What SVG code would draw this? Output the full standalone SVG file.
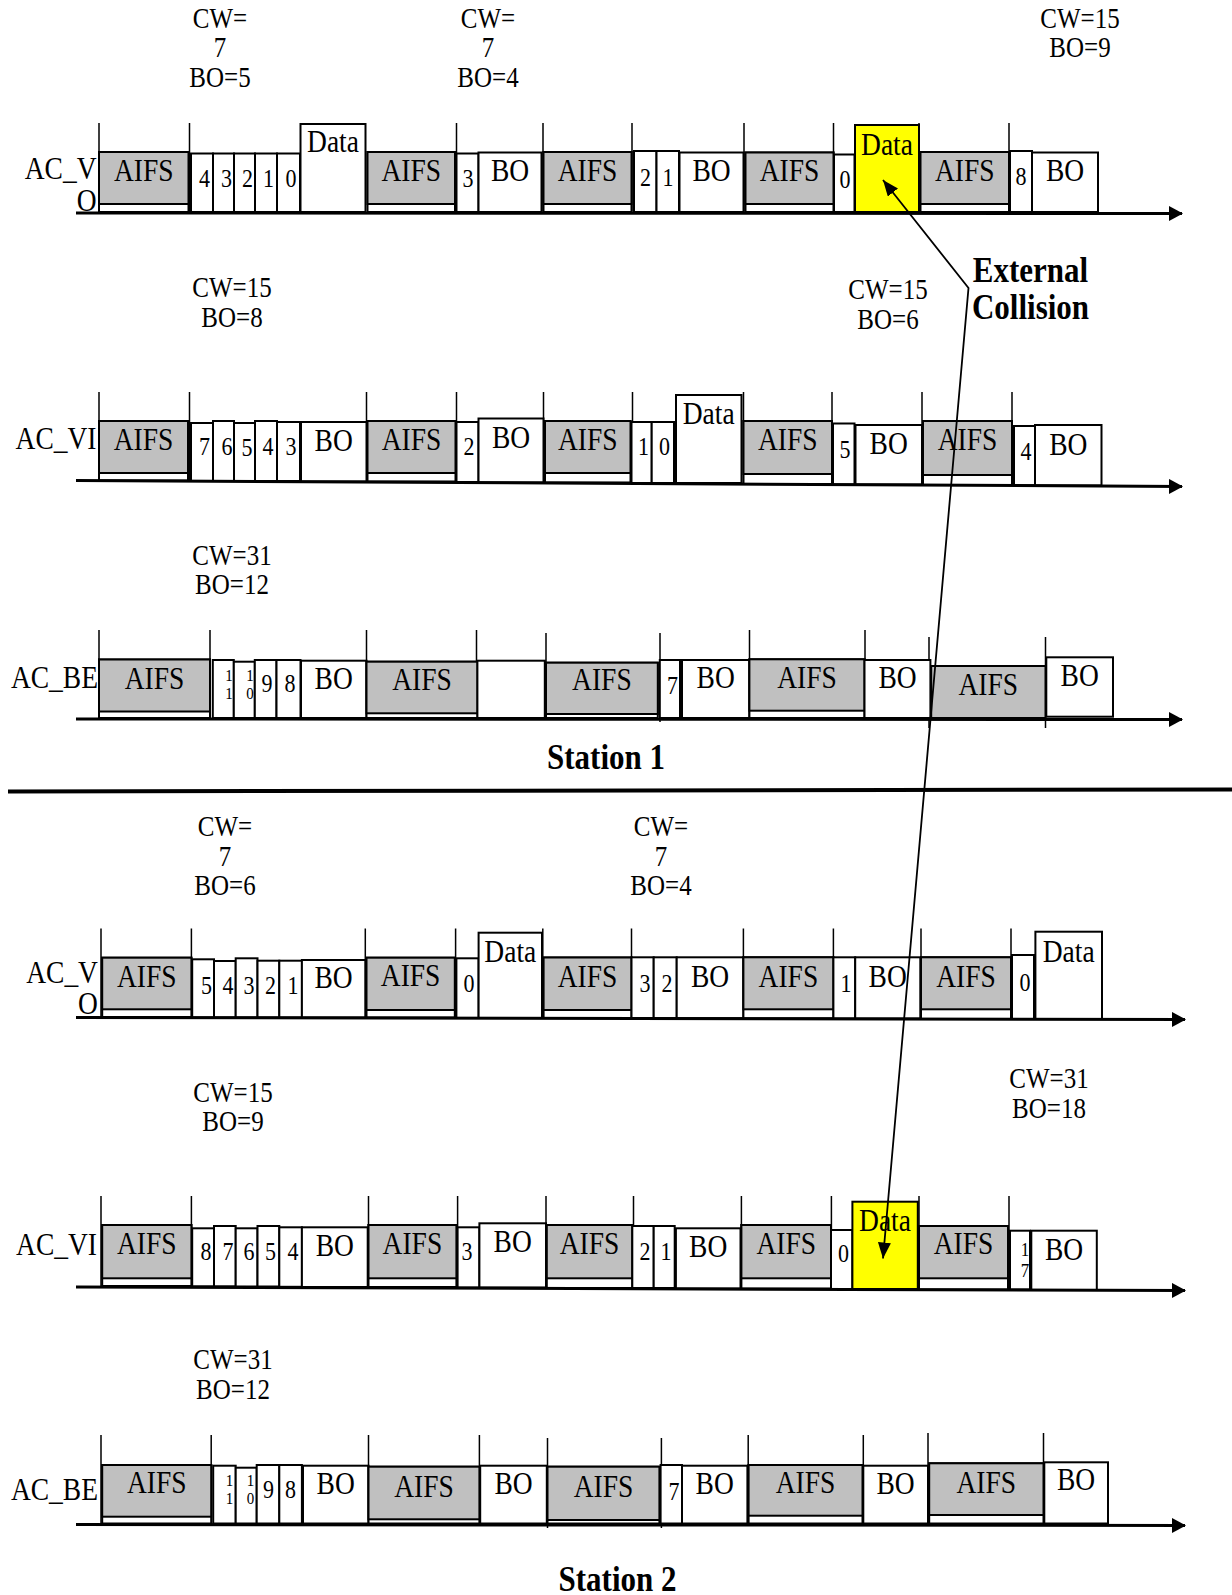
<svg xmlns="http://www.w3.org/2000/svg" width="1232" height="1595" viewBox="0 0 1232 1595">
<style>
text{font-family:"Liberation Serif","Times New Roman",serif;text-anchor:middle;fill:#000;transform-box:fill-box;transform-origin:center;transform:scaleY(1.15)}
.l{font-size:27.5px}
.r{font-size:27.5px;text-anchor:end}
.d{font-size:22px}
.s{font-size:15px}
.s17{font-size:17px}
.n{font-size:25px}
.b{font-size:31px;font-weight:bold}
.a{fill:#c0c0c0;stroke:#000;stroke-width:2}
.w{fill:#fff;stroke:#000;stroke-width:2}
.y{fill:#ffff00;stroke:#000;stroke-width:2}
.t{stroke:#000;stroke-width:1.5}
.base{stroke:#000;stroke-width:3;fill:none}
.col{stroke:#000;stroke-width:1.8;fill:none}
</style>
<defs>
<marker id="bh" viewBox="0 0 14 15" refX="13" refY="7.5" markerWidth="14" markerHeight="15" markerUnits="userSpaceOnUse" orient="auto"><path d="M0,0 L14,7.5 L0,15 z" fill="#000"/></marker>
<marker id="ch" viewBox="0 0 16 13" refX="16" refY="6.5" markerWidth="16" markerHeight="13" markerUnits="userSpaceOnUse" orient="auto-start-reverse"><path d="M0,0 L16,6.5 L0,13 z" fill="#000"/></marker>
</defs>
<rect width="1232" height="1595" fill="#fff"/>

<g id="notes">
<text class="n" x="220" y="26.3">CW=</text><text class="n" x="220" y="55.8">7</text><text class="n" x="220" y="85.3">BO=5</text>
<text class="n" x="488" y="26.3">CW=</text><text class="n" x="488" y="55.8">7</text><text class="n" x="488" y="85.3">BO=4</text>
<text class="n" x="1080" y="26.3">CW=15</text><text class="n" x="1080" y="55.8">BO=9</text>
<text class="n" x="232" y="296">CW=15</text><text class="n" x="232" y="325.4">BO=8</text>
<text class="n" x="888" y="298">CW=15</text><text class="n" x="888" y="327.4">BO=6</text>
<text class="b" x="1030.5" y="280.6">External</text><text class="b" x="1030.5" y="317.2">Collision</text>
<text class="n" x="232" y="563.5">CW=31</text><text class="n" x="232" y="593">BO=12</text>
<text class="b" x="606" y="767">Station 1</text>
<text class="n" x="225" y="835">CW=</text><text class="n" x="225" y="864.6">7</text><text class="n" x="225" y="894">BO=6</text>
<text class="n" x="661" y="835">CW=</text><text class="n" x="661" y="864.6">7</text><text class="n" x="661" y="894">BO=4</text>
<text class="n" x="233" y="1100.6">CW=15</text><text class="n" x="233" y="1130">BO=9</text>
<text class="n" x="1049" y="1087">CW=31</text><text class="n" x="1049" y="1117">BO=18</text>
<text class="n" x="233" y="1368">CW=31</text><text class="n" x="233" y="1397.6">BO=12</text>
<text class="b" x="617.5" y="1589">Station 2</text>
</g>

<g id="row-labels">
<text class="r" x="96.5" y="178">AC_V</text><text class="r" x="96.5" y="210">O</text>
<text class="r" x="96.5" y="447.5">AC_VI</text>
<text class="r" x="98" y="686.5">AC_BE</text>
<text class="r" x="98" y="981.5">AC_V</text><text class="r" x="98" y="1013">O</text>
<text class="r" x="97" y="1254">AC_VI</text>
<text class="r" x="98" y="1499">AC_BE</text>
</g>

<g id="ticks">
<path class="t" d="M99,123V212M189.5,123V212M456.5,123V212M543,123V212M632,123V212M744,123V212M833.5,123V212M919,123V212M1009,123V212"/>
<path class="t" d="M99,392V481M189.5,392V481M366.5,392V482M456.5,392V482M543.5,392V483M632.5,392V483M743.5,392V484M832,392V484M922,392V485M1012,392V485"/>
<path class="t" d="M99,630V719M210,630V719M366.5,630V719M476.5,630V719M546,633V719M660,633V722M749.5,630V719M865,630V719M929,637V728M1045.5,637V728"/>
<path class="t" d="M101,928.5V1018M191.4,928.5V1018M365.3,928.5V1018M455.6,928.5V1018M542.8,928.5V1018M631.5,928.5V1018M743.4,928.5V1019M833.4,928.5V1019M921,928.5V1019M1011,928.5V1019"/>
<path class="t" d="M101,1196V1287M191.4,1196V1287M368.5,1196V1288M457.6,1196V1288M546,1196V1288M633.5,1196V1289M741.4,1196V1289M831.4,1196V1289M919,1196V1290M1009,1196V1290"/>
<path class="t" d="M101,1435V1525M211.2,1435V1525M368.5,1435V1525M479.4,1435V1525M547.5,1438V1528M661.4,1438V1528M748.2,1435V1525M863.3,1435V1525M928,1433V1525M1043.5,1433V1525"/>
</g>

<!-- Station 1 AC_VO -->
<g id="s1vo-aifs1"><rect class="w" x="99" y="152" width="89.5" height="60"/><rect class="a" x="99" y="152" width="89.5" height="52"/><text class="l" x="143.7" y="180">AIFS</text></g>
<g id="s1vo-c4"><rect class="w" x="191" y="153.5" width="22" height="58.5"/><text class="d" x="204.5" y="186">4</text></g>
<g id="s1vo-c3"><rect class="w" x="213" y="153.5" width="21" height="58.5"/><text class="d" x="226.5" y="186">3</text></g>
<g id="s1vo-c2"><rect class="w" x="234" y="153.5" width="21" height="58.5"/><text class="d" x="247.5" y="186">2</text></g>
<g id="s1vo-c1"><rect class="w" x="255" y="153.5" width="22" height="58.5"/><text class="d" x="268.5" y="186">1</text></g>
<g id="s1vo-c0"><rect class="w" x="277" y="153.5" width="23" height="58.5"/><text class="d" x="291" y="186">0</text></g>
<g id="s1vo-data1"><rect class="w" x="300.5" y="124" width="65" height="88"/><text class="l" x="333" y="151">Data</text></g>
<g id="s1vo-aifs2"><rect class="w" x="367.5" y="152" width="87.5" height="60"/><rect class="a" x="367.5" y="152" width="87.5" height="52"/><text class="l" x="411.2" y="180">AIFS</text></g>
<g id="s1vo-c3b"><rect class="w" x="456.5" y="153.5" width="22" height="58.5"/><text class="d" x="468" y="186">3</text></g>
<g id="s1vo-bo1"><rect class="w" x="478.5" y="152.5" width="63" height="59.5"/><text class="l" x="510" y="180">BO</text></g>
<g id="s1vo-aifs3"><rect class="w" x="543.5" y="152" width="88" height="60"/><rect class="a" x="543.5" y="152" width="88" height="52"/><text class="l" x="587.5" y="180">AIFS</text></g>
<g id="s1vo-c2b"><rect class="w" x="634" y="151" width="22.5" height="61"/><text class="d" x="645.5" y="185">2</text></g>
<g id="s1vo-c1b"><rect class="w" x="656.5" y="151" width="22.5" height="61"/><text class="d" x="668" y="185">1</text></g>
<g id="s1vo-bo2"><rect class="w" x="679.5" y="152.5" width="64" height="59.5"/><text class="l" x="711.5" y="180">BO</text></g>
<g id="s1vo-aifs4"><rect class="w" x="745.5" y="152.5" width="88" height="59.5"/><rect class="a" x="745.5" y="152.5" width="88" height="51.5"/><text class="l" x="789.5" y="180">AIFS</text></g>
<g id="s1vo-c0b"><rect class="w" x="834" y="154.5" width="20.5" height="57.5"/><text class="d" x="845" y="187">0</text></g>
<g id="s1vo-data2"><rect class="y" x="855" y="125" width="64" height="87"/><text class="l" x="887" y="153.5">Data</text></g>
<g id="s1vo-aifs5"><rect class="w" x="920.5" y="152" width="88.5" height="60"/><rect class="a" x="920.5" y="152" width="88.5" height="52"/><text class="l" x="964.7" y="180">AIFS</text></g>
<g id="s1vo-c8"><rect class="w" x="1010" y="151" width="22" height="61"/><text class="d" x="1021" y="184">8</text></g>
<g id="s1vo-bo3"><rect class="w" x="1032" y="152.5" width="66" height="59.5"/><text class="l" x="1065" y="180">BO</text></g>

<!-- Station 1 AC_VI -->
<g id="s1vi-aifs1"><rect class="w" x="99" y="421" width="89" height="59.5"/><rect class="a" x="99" y="421" width="89" height="52"/><text class="l" x="143.5" y="448.5">AIFS</text></g>
<g id="s1vi-c7"><rect class="w" x="191" y="423" width="22" height="58"/><text class="d" x="204.5" y="453.5">7</text></g>
<g id="s1vi-c6"><rect class="w" x="213" y="421" width="21" height="60"/><text class="d" x="227" y="453.5">6</text></g>
<g id="s1vi-c5"><rect class="w" x="234" y="423" width="21" height="58"/><text class="d" x="247" y="455">5</text></g>
<g id="s1vi-c4"><rect class="w" x="255" y="421" width="22" height="60"/><text class="d" x="268" y="453.5">4</text></g>
<g id="s1vi-c3"><rect class="w" x="277" y="422" width="23" height="59"/><text class="d" x="291" y="453.5">3</text></g>
<g id="s1vi-bo1"><rect class="w" x="301" y="422" width="65.5" height="59.5"/><text class="l" x="333.7" y="449.5">BO</text></g>
<g id="s1vi-aifs2"><rect class="w" x="367.5" y="421" width="88" height="60.5"/><rect class="a" x="367.5" y="421" width="88" height="52"/><text class="l" x="411.5" y="448.5">AIFS</text></g>
<g id="s1vi-c2"><rect class="w" x="456.5" y="422" width="22" height="60"/><text class="d" x="469" y="453.5">2</text></g>
<g id="s1vi-bo2"><rect class="w" x="478.5" y="418.5" width="65" height="64"/><text class="l" x="511" y="446.4">BO</text></g>
<g id="s1vi-aifs3"><rect class="w" x="545" y="421" width="85.5" height="61.5"/><rect class="a" x="545" y="421" width="85.5" height="52"/><text class="l" x="587.7" y="448.5">AIFS</text></g>
<g id="s1vi-c1"><rect class="w" x="631.5" y="422" width="20.2" height="61"/><text class="d" x="643.5" y="453.5">1</text></g>
<g id="s1vi-c0"><rect class="w" x="651.7" y="422" width="22.3" height="61"/><text class="d" x="664.5" y="453.5">0</text></g>
<g id="s1vi-data"><rect class="w" x="676" y="395" width="65.5" height="88"/><text class="l" x="708.7" y="423">Data</text></g>
<g id="s1vi-aifs4"><rect class="w" x="743.5" y="421" width="88.5" height="63"/><rect class="a" x="743.5" y="421" width="88.5" height="53"/><text class="l" x="787.7" y="448.5">AIFS</text></g>
<g id="s1vi-c5b"><rect class="w" x="833" y="423.5" width="21.5" height="61"/><text class="d" x="845" y="456.5">5</text></g>
<g id="s1vi-bo3"><rect class="w" x="855.5" y="425" width="66.5" height="59.5"/><text class="l" x="888.7" y="452.5">BO</text></g>
<g id="s1vi-aifs5"><rect class="w" x="923" y="421" width="89" height="64"/><rect class="a" x="923" y="421" width="89" height="54"/><text class="l" x="967.5" y="448.5">AIFS</text></g>
<g id="s1vi-c4b"><rect class="w" x="1014" y="426" width="21" height="59.5"/><text class="d" x="1026" y="458.5">4</text></g>
<g id="s1vi-bo4"><rect class="w" x="1035" y="425" width="66.5" height="60.5"/><text class="l" x="1068.3" y="453.6">BO</text></g>

<!-- Station 1 AC_BE -->
<g id="s1be-aifs1"><rect class="w" x="99" y="659.5" width="111" height="58.5"/><rect class="a" x="99" y="659.5" width="111" height="52"/><text class="l" x="154.5" y="687.5">AIFS</text></g>
<g id="s1be-c11"><rect class="w" x="212.8" y="660" width="21" height="58"/><text class="s" x="229" y="680">1</text><text class="s" x="229" y="698">1</text></g>
<g id="s1be-c10"><rect class="w" x="233.8" y="661.7" width="21" height="56.3"/><text class="s" x="250" y="680">1</text><text class="s" x="250" y="698">0</text></g>
<g id="s1be-c9"><rect class="w" x="254.8" y="660" width="21.7" height="58"/><text class="d" x="267" y="690.5">9</text></g>
<g id="s1be-c8"><rect class="w" x="276.5" y="660" width="24" height="58"/><text class="d" x="290" y="690.5">8</text></g>
<g id="s1be-bo1"><rect class="w" x="301" y="660.7" width="65.5" height="57.3"/><text class="l" x="333.7" y="687.5">BO</text></g>
<g id="s1be-aifs2"><rect class="w" x="366.5" y="661.7" width="111" height="56.3"/><rect class="a" x="366.5" y="661.7" width="111" height="51.6"/><text class="l" x="422" y="688.6">AIFS</text></g>
<g id="s1be-empty"><rect class="w" x="477.4" y="660.7" width="67.4" height="57.3"/></g>
<g id="s1be-aifs3"><rect class="w" x="546" y="662.7" width="111.8" height="55.3"/><rect class="a" x="546" y="662.7" width="111.8" height="51.3"/><text class="l" x="601.9" y="688.6">AIFS</text></g>
<g id="s1be-c7"><rect class="w" x="659.8" y="660" width="20.2" height="58"/><text class="d" x="672.5" y="692.5">7</text></g>
<g id="s1be-bo2"><rect class="w" x="682" y="660" width="67.4" height="58"/><text class="l" x="715.7" y="686.5">BO</text></g>
<g id="s1be-aifs4"><rect class="w" x="749.4" y="659.3" width="115.1" height="58.7"/><rect class="a" x="749.4" y="659.3" width="115.1" height="51.4"/><text class="l" x="807" y="686.5">AIFS</text></g>
<g id="s1be-bo3"><rect class="w" x="864.5" y="660" width="65.9" height="58"/><text class="l" x="897.5" y="686.5">BO</text></g>
<g id="s1be-aifs5"><rect class="a" x="931.2" y="666" width="114.3" height="52"/><text class="l" x="988.3" y="693.6">AIFS</text></g>
<g id="s1be-bo4"><rect class="w" x="1046.3" y="657.3" width="66.7" height="59.4"/><text class="l" x="1079.7" y="684.5">BO</text></g>

<!-- Station 2 AC_VO -->
<g id="s2vo-aifs1"><rect class="w" x="102.2" y="957.7" width="89.2" height="59.3"/><rect class="a" x="102.2" y="957.7" width="89.2" height="51.6"/><text class="l" x="146.8" y="985.6">AIFS</text></g>
<g id="s2vo-c5"><rect class="w" x="192.2" y="959.3" width="21.8" height="58.2"/><text class="d" x="206.5" y="992.5">5</text></g>
<g id="s2vo-c4"><rect class="w" x="214" y="961" width="21.7" height="56.5"/><text class="d" x="228" y="992.5">4</text></g>
<g id="s2vo-c3"><rect class="w" x="235.7" y="958.3" width="21.8" height="59.2"/><text class="d" x="249" y="992.5">3</text></g>
<g id="s2vo-c2"><rect class="w" x="257.5" y="960.7" width="21.8" height="56.8"/><text class="d" x="270.6" y="992.5">2</text></g>
<g id="s2vo-c1"><rect class="w" x="279.3" y="960.7" width="22.6" height="56.8"/><text class="d" x="293" y="992.5">1</text></g>
<g id="s2vo-bo1"><rect class="w" x="301.9" y="960" width="63.4" height="57.5"/><text class="l" x="333.6" y="986.6">BO</text></g>
<g id="s2vo-aifs2"><rect class="w" x="366.5" y="957.7" width="88.3" height="59.8"/><rect class="a" x="366.5" y="957.7" width="88.3" height="52.3"/><text class="l" x="410.6" y="984.6">AIFS</text></g>
<g id="s2vo-c0"><rect class="w" x="456.4" y="958.3" width="22.2" height="59.7"/><text class="d" x="469" y="990.5">0</text></g>
<g id="s2vo-data1"><rect class="w" x="478.6" y="932.7" width="63.4" height="85.3"/><text class="l" x="510.3" y="960.2">Data</text></g>
<g id="s2vo-aifs3"><rect class="w" x="543.6" y="957.5" width="87.9" height="60.5"/><rect class="a" x="543.6" y="957.5" width="87.9" height="52.5"/><text class="l" x="587.5" y="985.6">AIFS</text></g>
<g id="s2vo-c3b"><rect class="w" x="631.5" y="957.3" width="22.2" height="60.9"/><text class="d" x="645" y="990.5">3</text></g>
<g id="s2vo-c2b"><rect class="w" x="653.7" y="957.3" width="23" height="60.9"/><text class="d" x="667" y="990.5">2</text></g>
<g id="s2vo-bo2"><rect class="w" x="676.7" y="957.3" width="66.7" height="60.9"/><text class="l" x="710" y="985.6">BO</text></g>
<g id="s2vo-aifs4"><rect class="w" x="743.4" y="957.3" width="90" height="61"/><rect class="a" x="743.4" y="957.3" width="90" height="52"/><text class="l" x="788.4" y="985.6">AIFS</text></g>
<g id="s2vo-c1b"><rect class="w" x="833.4" y="957.3" width="21.8" height="61.2"/><text class="d" x="846" y="990.5">1</text></g>
<g id="s2vo-bo3"><rect class="w" x="855.2" y="957.3" width="65.1" height="61.2"/><text class="l" x="887.7" y="985.6">BO</text></g>
<g id="s2vo-aifs5"><rect class="w" x="921" y="957.3" width="90" height="61.7"/><rect class="a" x="921" y="957.3" width="90" height="52"/><text class="l" x="966" y="985.6">AIFS</text></g>
<g id="s2vo-c0b"><rect class="w" x="1012" y="955" width="22" height="64"/><text class="d" x="1025" y="990">0</text></g>
<g id="s2vo-data2"><rect class="w" x="1035.4" y="931.7" width="66.6" height="87.3"/><text class="l" x="1068.7" y="961">Data</text></g>

<!-- Station 2 AC_VI -->
<g id="s2vi-aifs1"><rect class="w" x="102.2" y="1225" width="89.2" height="61"/><rect class="a" x="102.2" y="1225" width="89.2" height="53.3"/><text class="l" x="146.8" y="1253">AIFS</text></g>
<g id="s2vi-c8"><rect class="w" x="192.2" y="1228.3" width="21.8" height="58"/><text class="d" x="206" y="1259">8</text></g>
<g id="s2vi-c7"><rect class="w" x="214" y="1226" width="21.7" height="60.3"/><text class="d" x="228" y="1259">7</text></g>
<g id="s2vi-c6"><rect class="w" x="235.7" y="1228.3" width="21.8" height="58.2"/><text class="d" x="249" y="1259">6</text></g>
<g id="s2vi-c5"><rect class="w" x="257.5" y="1226" width="21.8" height="60.5"/><text class="d" x="270.6" y="1259">5</text></g>
<g id="s2vi-c4"><rect class="w" x="279.3" y="1227.3" width="22.6" height="59.5"/><text class="d" x="293" y="1259">4</text></g>
<g id="s2vi-bo1"><rect class="w" x="301.9" y="1227.3" width="65.8" height="59.7"/><text class="l" x="334.8" y="1255">BO</text></g>
<g id="s2vi-aifs2"><rect class="w" x="368.5" y="1225" width="87.9" height="62"/><rect class="a" x="368.5" y="1225" width="87.9" height="53.3"/><text class="l" x="412.4" y="1253">AIFS</text></g>
<g id="s2vi-c3"><rect class="w" x="457.6" y="1227.3" width="21.8" height="60.2"/><text class="d" x="467" y="1259">3</text></g>
<g id="s2vi-bo2"><rect class="w" x="479.4" y="1223.3" width="66.6" height="64.2"/><text class="l" x="512.7" y="1251">BO</text></g>
<g id="s2vi-aifs3"><rect class="w" x="546.8" y="1225" width="85.5" height="63"/><rect class="a" x="546.8" y="1225" width="85.5" height="53.3"/><text class="l" x="589.5" y="1253">AIFS</text></g>
<g id="s2vi-c2"><rect class="w" x="632.3" y="1226" width="21.4" height="62"/><text class="d" x="645" y="1259">2</text></g>
<g id="s2vi-c1"><rect class="w" x="653.7" y="1226" width="21" height="62"/><text class="d" x="666" y="1259">1</text></g>
<g id="s2vi-bo3"><rect class="w" x="675.9" y="1228.3" width="64.6" height="60.2"/><text class="l" x="708.2" y="1256">BO</text></g>
<g id="s2vi-aifs4"><rect class="w" x="741.4" y="1225" width="89.6" height="63.5"/><rect class="a" x="741.4" y="1225" width="89.6" height="53.3"/><text class="l" x="786.2" y="1253">AIFS</text></g>
<g id="s2vi-c0"><rect class="w" x="831" y="1230" width="21.4" height="59"/><text class="d" x="843.5" y="1261">0</text></g>
<g id="s2vi-data"><rect class="y" x="852.4" y="1201.7" width="65.4" height="87.3"/><text class="l" x="885" y="1229.8">Data</text></g>
<g id="s2vi-aifs5"><rect class="w" x="919" y="1226" width="89" height="63.5"/><rect class="a" x="919" y="1226" width="89" height="52.3"/><text class="l" x="963.5" y="1253">AIFS</text></g>
<g id="s2vi-c17"><rect class="w" x="1010" y="1230.7" width="20" height="58.8"/><text class="s17" x="1025" y="1255">1</text><text class="s17" x="1025" y="1276">7</text></g>
<g id="s2vi-bo4"><rect class="w" x="1031.3" y="1230.7" width="65.5" height="59.3"/><text class="l" x="1064" y="1258.3">BO</text></g>

<!-- Station 2 AC_BE -->
<g id="s2be-aifs1"><rect class="w" x="102.2" y="1465" width="109" height="58.5"/><rect class="a" x="102.2" y="1465" width="109" height="51.7"/><text class="l" x="156.7" y="1492">AIFS</text></g>
<g id="s2be-c11"><rect class="w" x="213.2" y="1465.7" width="22.5" height="57.8"/><text class="s" x="229.5" y="1485">1</text><text class="s" x="229.5" y="1503">1</text></g>
<g id="s2be-c10"><rect class="w" x="235.7" y="1467.7" width="21" height="55.8"/><text class="s" x="250.5" y="1485">1</text><text class="s" x="250.5" y="1503">0</text></g>
<g id="s2be-c9"><rect class="w" x="256.7" y="1465" width="22.6" height="58.5"/><text class="d" x="268.5" y="1496.5">9</text></g>
<g id="s2be-c8"><rect class="w" x="279.3" y="1465" width="22.6" height="58.5"/><text class="d" x="290.5" y="1496.5">8</text></g>
<g id="s2be-bo1"><rect class="w" x="303" y="1465.7" width="65.5" height="57.8"/><text class="l" x="335.7" y="1493">BO</text></g>
<g id="s2be-aifs2"><rect class="w" x="368.5" y="1466.7" width="110.9" height="56.8"/><rect class="a" x="368.5" y="1466.7" width="110.9" height="52.6"/><text class="l" x="424" y="1495.3">AIFS</text></g>
<g id="s2be-bo2"><rect class="w" x="480.2" y="1465.7" width="66.6" height="57.8"/><text class="l" x="513.5" y="1493">BO</text></g>
<g id="s2be-aifs3"><rect class="w" x="547.5" y="1466.7" width="111.9" height="56.8"/><rect class="a" x="547.5" y="1466.7" width="111.9" height="53.3"/><text class="l" x="603.5" y="1495.3">AIFS</text></g>
<g id="s2be-c7"><rect class="w" x="660.6" y="1465" width="21.4" height="58.5"/><text class="d" x="674" y="1499">7</text></g>
<g id="s2be-bo3"><rect class="w" x="682" y="1465.7" width="65.4" height="57.8"/><text class="l" x="714.7" y="1493">BO</text></g>
<g id="s2be-aifs4"><rect class="w" x="748.6" y="1465" width="113.9" height="58.5"/><rect class="a" x="748.6" y="1465" width="113.9" height="50.7"/><text class="l" x="805.5" y="1492">AIFS</text></g>
<g id="s2be-bo4"><rect class="w" x="863.3" y="1465.7" width="64.7" height="57.8"/><text class="l" x="895.6" y="1493">BO</text></g>
<g id="s2be-aifs5"><rect class="w" x="929.2" y="1463.3" width="114.3" height="60.2"/><rect class="a" x="929.2" y="1463.3" width="114.3" height="51.7"/><text class="l" x="986.3" y="1491.2">AIFS</text></g>
<g id="s2be-bo5"><rect class="w" x="1044.3" y="1462.3" width="63.7" height="61.2"/><text class="l" x="1076" y="1489">BO</text></g>

<g id="connectors">
<path class="base" d="M76,213 L1182,213.5" marker-end="url(#bh)"/>
<path class="base" d="M76,480.5 L1182,486.5" marker-end="url(#bh)"/>
<path class="base" d="M76,719 L1182,719.5" marker-end="url(#bh)"/>
<path d="M8,791.5 L1232,789.5" stroke="#000" stroke-width="4"/>
<path class="base" d="M76,1017.5 L1185,1019.5" marker-end="url(#bh)"/>
<path class="base" d="M76,1287 L1185,1290.5" marker-end="url(#bh)"/>
<path class="base" d="M76,1524.5 L1185,1525.5" marker-end="url(#bh)"/>
<path class="col" d="M883,180 L968.5,288 L883,1258.5" marker-start="url(#ch)" marker-end="url(#ch)"/>
</g>
</svg>
